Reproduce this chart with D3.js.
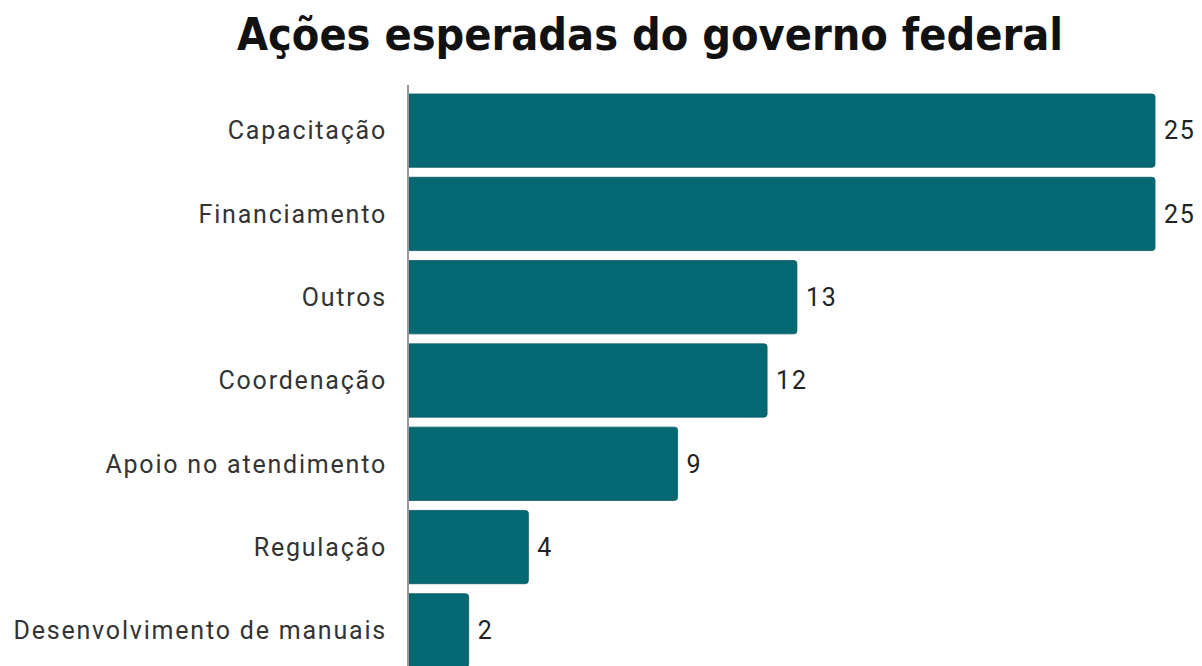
<!DOCTYPE html>
<html lang="pt">
<head>
  <meta charset="UTF-8">
  <title>Ações esperadas do governo federal</title>
  <script src="https://d3js.org/d3.v7.min.js"></script>
  <style>
    body { margin: 0; padding: 0; background: #fff; overflow: hidden; }
    .title { font-family: "DejaVu Sans Condensed", "Roboto", sans-serif; font-weight: bold; font-stretch: condensed; }
    .label { font-family: Roboto, "Noto Sans", sans-serif; letter-spacing: 1.8px; }
  </style>
</head>
<body>
  <div id="chart"></div>
  <script>
    const categories = ["Capacitação", "Financiamento", "Outros", "Coordenação", "Apoio no atendimento", "Regulação", "Desenvolvimento de manuais"];
    const values = [25, 25, 13, 12, 9, 4, 2];

    const width = 1202, height = 666;
    const left = 409, right = 1155;

    const svg = d3.select("#chart").append("svg")
      .attr("width", width)
      .attr("height", height);

    svg.append("text")
      .attr("class", "title")
      .attr("x", 650)
      .attr("y", 50)
      .attr("text-anchor", "middle")
      .attr("font-size", 45)
      .attr("fill", "#111")
      .attr("textLength", 826)
      .attr("lengthAdjust", "spacingAndGlyphs")
      .text("Ações esperadas do governo federal");

    const x = d3.scaleLinear().domain([0, 25]).range([left, right]);
    const y = d3.scaleBand().domain(categories).range([89, 89 + 583])
      .paddingInner(0.12).paddingOuter(0.06);

    const rows = categories.map((c, i) => ({ cat: c, val: values[i] }));

    // bars, right corners rounded
    svg.selectAll(".bar")
      .data(rows)
      .join("path")
      .attr("class", "bar")
      .attr("fill", "#066873")
      .attr("stroke", "#0a5a63")
      .attr("stroke-width", 0.8)
      .attr("d", d => {
        const x0 = x(0), x1 = x(d.val), y0 = y(d.cat), h = y.bandwidth(), r = 3;
        return `M${x0},${y0}H${x1 - r}Q${x1},${y0} ${x1},${y0 + r}V${y0 + h - r}Q${x1},${y0 + h} ${x1 - r},${y0 + h}H${x0}Z`;
      });

    // axis line
    svg.append("line")
      .attr("x1", left - 1).attr("x2", left - 1)
      .attr("y1", 85).attr("y2", height)
      .attr("stroke", "#999")
      .attr("stroke-width", 2);

    // category labels
    svg.selectAll(".cat")
      .data(rows)
      .join("text")
      .attr("class", "label cat")
      .attr("x", 387)
      .attr("y", d => y(d.cat) + y.bandwidth() / 2)
      .attr("dy", "0.35em")
      .attr("text-anchor", "end")
      .attr("font-size", 25)
      .attr("fill", "#333")
      .text(d => d.cat);

    // value labels
    svg.selectAll(".val")
      .data(rows)
      .join("text")
      .attr("class", "label val")
      .attr("x", d => x(d.val) + 9)
      .attr("y", d => y(d.cat) + y.bandwidth() / 2)
      .attr("dy", "0.35em")
      .attr("font-size", 25)
      .attr("fill", "#222")
      .text(d => d.val);
  </script>
</body>
</html>
